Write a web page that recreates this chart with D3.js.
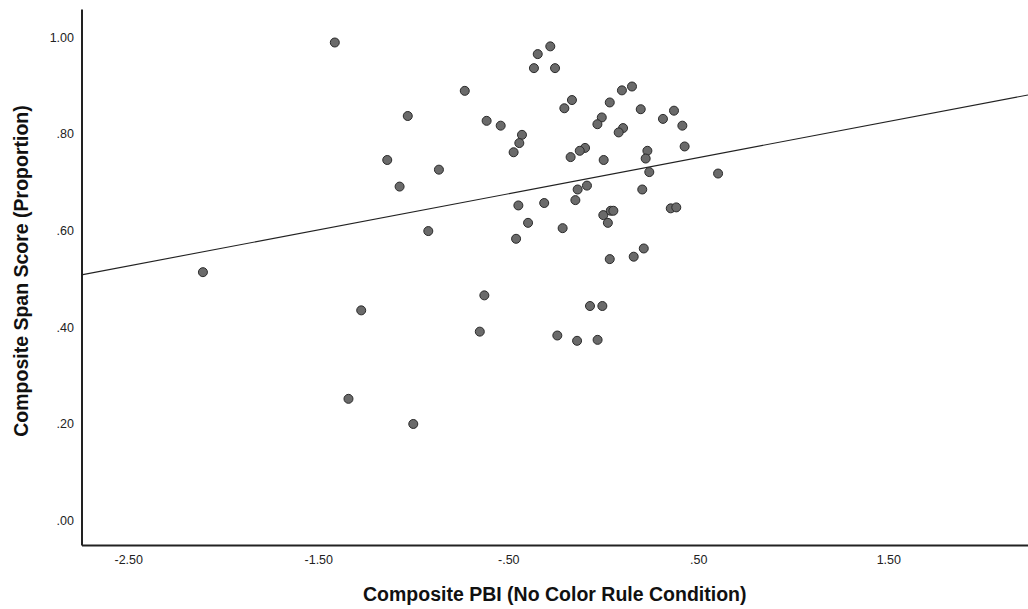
<!DOCTYPE html>
<html>
<head>
<meta charset="utf-8">
<script src="https://cdn.jsdelivr.net/npm/d3@7"></script>
<style>
  body { margin: 0; background: #fff; }
  svg { display: block; }
  .tick text { font-family: "Liberation Sans", Arial, sans-serif; font-size: 12.5px; fill: #222; }
  .axis-title { font-family: "Liberation Sans", Arial, sans-serif; font-size: 19.5px; font-weight: bold; fill: #111; }
</style>
</head>
<body>
<svg id="chart" width="1028" height="609"></svg>
<script>
// composite PBI (x) and span score (y)
const pbi = [
  -2.107, -1.413, -1.274, -1.341, -1.000, -1.137, -1.072, -1.029, -0.865, -0.921,
  -0.729, -0.614, -0.540, -0.279, -0.345, -0.365, -0.254,  0.151,  0.098, -0.165,
  -0.205,  0.034,  0.197,  0.372,  0.314,  0.416, -0.008, -0.031,  0.104,  0.081,
  -0.428, -0.442, -0.472,  0.428, -0.096, -0.124, -0.172,  0.002,  0.232,  0.223,
   0.242,  0.604, -0.086, -0.135,  0.205, -0.147, -0.447, -0.311,  0.355,  0.384,
   0.000,  0.039,  0.053, -0.396,  0.024, -0.214, -0.459,  0.213,  0.160,  0.034,
  -0.626, -0.070, -0.005, -0.650, -0.242, -0.138, -0.030
];
const span = [
  0.514, 0.989, 0.435, 0.252, 0.200, 0.746, 0.691, 0.837, 0.726, 0.599,
  0.889, 0.827, 0.817, 0.981, 0.965, 0.936, 0.936, 0.898, 0.890, 0.870,
  0.853, 0.865, 0.851, 0.848, 0.831, 0.817, 0.834, 0.820, 0.812, 0.803,
  0.798, 0.781, 0.762, 0.774, 0.771, 0.765, 0.752, 0.746, 0.765, 0.749,
  0.721, 0.718, 0.693, 0.685, 0.685, 0.663, 0.652, 0.657, 0.646, 0.648,
  0.632, 0.641, 0.641, 0.616, 0.616, 0.605, 0.583, 0.563, 0.546, 0.541,
  0.466, 0.444, 0.444, 0.391, 0.383, 0.372, 0.374
];

// fit line (intercept, slope)
const fitLine = [0.7135, 0.0747];

const xTicks = [-2.5, -1.5, -0.5, 0.5, 1.5];
const yTicks = [0, 0.2, 0.4, 0.6, 0.8, 1.0];

const xTitle = "Composite PBI (No Color Rule Condition)";
const yTitle = "Composite Span Score (Proportion)";

const svg = d3.select("#chart");
const plot = { left: 81.5, right: 1028, top: 9, bottom: 545 };

const x = d3.scaleLinear().domain([-2.746, 2.235]).range([plot.left, plot.right]);
const y = d3.scaleLinear().domain([-0.0503, 1.0583]).range([plot.bottom, plot.top]);

// spss style labels: drop leading zero, plain hyphen for minus
const fmt = d => d3.format(".2f")(d).replace("\u2212", "-").replace(/^(-?)0\./, "$1.");

svg.append("g")
    .attr("transform", "translate(0," + plot.bottom + ")")
    .call(d3.axisBottom(x).tickValues(xTicks).tickFormat(fmt).tickSize(0).tickPadding(10));

svg.append("g")
    .attr("transform", "translate(" + plot.left + ",0)")
    .call(d3.axisLeft(y).tickValues(yTicks).tickFormat(fmt).tickSize(0).tickPadding(7.5));

svg.selectAll(".domain")
    .attr("stroke", "#222")
    .attr("stroke-width", 2);

// regression line across the whole plot
const xs = x.domain();
svg.append("line")
    .attr("x1", x(xs[0]))
    .attr("y1", y(fitLine[0] + fitLine[1] * xs[0]))
    .attr("x2", x(xs[1]))
    .attr("y2", y(fitLine[0] + fitLine[1] * xs[1]))
    .attr("stroke", "#222")
    .attr("stroke-width", 1.1);

svg.append("g").selectAll("circle")
    .data(pbi.map((v, i) => [v, span[i]]))
    .enter()
    .append("circle")
    .attr("cx", d => x(d[0]))
    .attr("cy", d => y(d[1]))
    .attr("r", 4.5)
    .attr("fill", "#6a6a6a")
    .attr("stroke", "#2a2a2a")
    .attr("stroke-width", 1);

svg.append("text")
    .attr("class", "axis-title")
    .attr("x", (plot.left + plot.right) / 2)
    .attr("y", 601)
    .attr("text-anchor", "middle")
    .text(xTitle);

svg.append("text")
    .attr("class", "axis-title")
    .attr("transform", "translate(28,271) rotate(-90)")
    .attr("text-anchor", "middle")
    .text(yTitle);
</script>
</body>
</html>
